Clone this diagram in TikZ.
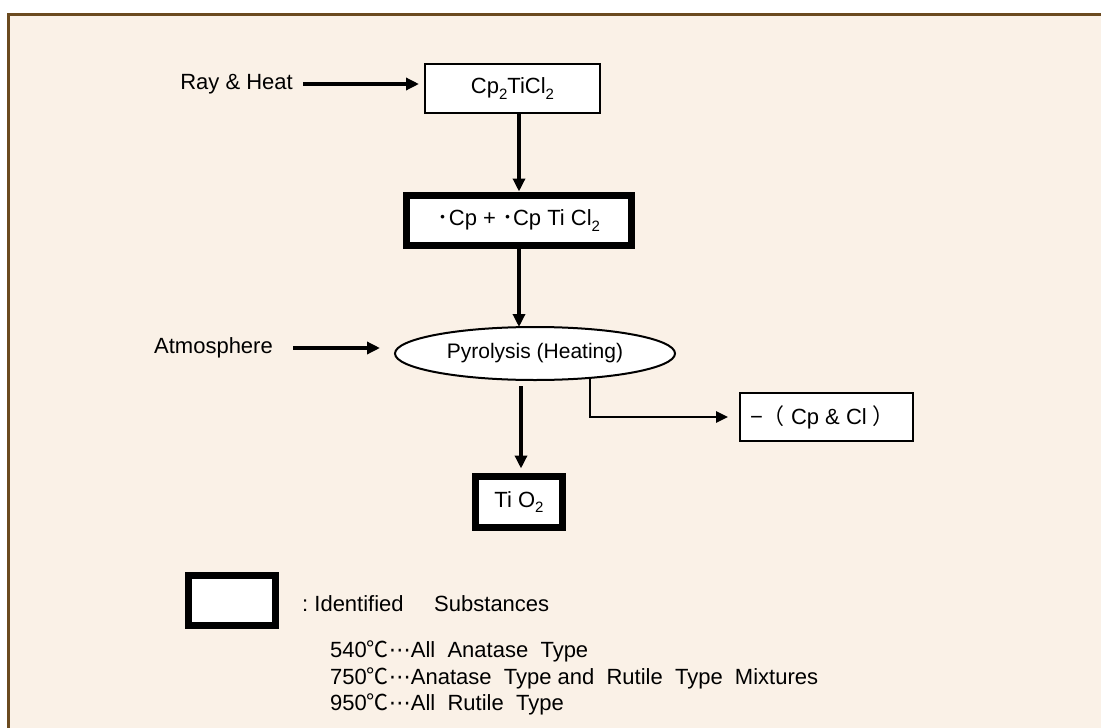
\documentclass[tikz,border=0pt]{standalone}
\usepackage{fontspec}
\setmainfont{Liberation Sans}
\newfontfamily\jpfont{Noto Sans CJK JP}
\newfontfamily\symfont{DejaVu Sans}
\usetikzlibrary{positioning, calc, arrows.meta, shapes.geometric}
\definecolor{Paper}{HTML}{FAF1E7}
\definecolor{Frame}{HTML}{6B4A1F}
\newcommand{\degc}{{\jpfont ℃}}
\newcommand{\lead}{{\symfont ⋯}}
\newcommand{\dotc}{{\jpfont ･}}
\newcommand{\lowsub}[1]{\raisebox{-0.5ex}{\fontsize{15}{15}\selectfont #1}}
\tikzset{
    plainbox/.style={rectangle, draw=black, fill=white, line width=2pt, inner sep=0pt, outer sep=0pt, font=\fontsize{22}{26}\selectfont},
    boldbox/.style={rectangle, draw=black, fill=white, line width=7pt, inner sep=0pt, outer sep=0pt, font=\fontsize{22}{26}\selectfont},
    oval/.style={ellipse, draw=black, fill=white, line width=2pt, inner sep=0pt, outer sep=0pt, font=\fontsize{21}{25}\selectfont},
    label/.style={inner sep=0pt, font=\fontsize{22}{26}\selectfont},
    note/.style={inner sep=0pt, anchor=west, font=\fontsize{22}{26}\selectfont},
    arrow/.style={-{Triangle[length=13pt,width=12pt]}, line width=3.5pt},
    thinarrow/.style={-{Triangle[length=12pt,width=11pt]}, line width=2.5pt},
}
\begin{document}
\begin{tikzpicture}[x=1pt, y=-1pt]
    \clip (0,0) rectangle (1101,728);
    % Hintergrund mit Rahmen
    \draw[fill=Paper, draw=Frame, line width=3pt] (8.5,14) rectangle (1120,750);

    % Stoffe
    \node[plainbox, minimum width=175pt, minimum height=49pt] (cp) at (512.5,88.5) {Cp\lowsub{2}TiCl\lowsub{2}};
    \node[boldbox, minimum width=225pt, minimum height=50pt] (rad) at (519,220.5) {\dotc Cp + \dotc Cp Ti Cl\lowsub{2}};
    \node[oval, minimum width=280pt, minimum height=53pt] (pyro) at (535,353.5) {Pyrolysis (Heating)};
    \node[boldbox, minimum width=87pt, minimum height=51pt] (tio) at (519,502) {Ti O\lowsub{2}};
    \node[plainbox, minimum width=173pt, minimum height=48pt] (loss) at (826.5,417) {\hspace*{-8pt}−{\jpfont （} Cp \& Cl {\jpfont ）}};

    % Einfluesse
    \node[label, anchor=east] (ray) at (293,84) {Ray \& Heat};
    \node[label, anchor=east] (atm) at (273,348) {Atmosphere};

    % Pfeile
    \draw[arrow, shorten <=10pt, shorten >=6pt] (ray.east) -- (ray.east -| cp.west);
    \draw[arrow, shorten >=4pt] (rad.north |- cp.south) -- (rad.north);
    \draw[arrow] (rad.south) -- (rad.south |- pyro.north);
    \draw[arrow, shorten <=20pt, shorten >=15pt] (atm.east) -- (atm.east -| pyro.west);
    \draw[arrow, shorten <=6pt, shorten >=8pt] ($(tio.north |- pyro.south)+(2,0)$) -- ($(tio.north)+(2,0)$);
    \draw[thinarrow, shorten >=12pt] (pyro.-24) |- (loss.west);

    % Legende
    \node[boldbox, minimum width=87pt, minimum height=50pt] (key) at (232,600.5) {};
    \node[note] (keytext) at (302,604) {:\ Identified\ \ \ \ \ Substances};
    \node[note] (t540) at (330,651) {540\degc\lead All\ \ Anatase\ \ Type};
    \node[note] (t750) at (330,678) {750\degc\lead Anatase\ \ Type and\ \ Rutile\ \ Type\ \ Mixtures};
    \node[note] (t950) at (330,704) {950\degc\lead All\ \ Rutile\ \ Type};
\end{tikzpicture}
\end{document}
